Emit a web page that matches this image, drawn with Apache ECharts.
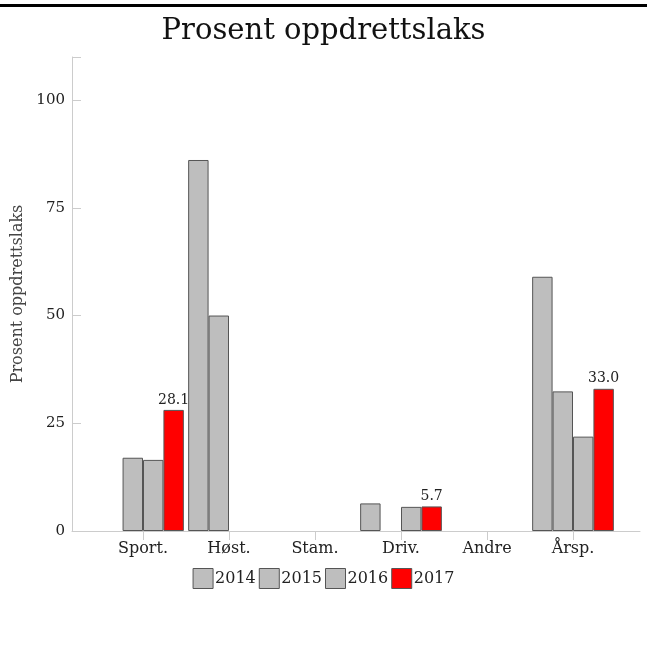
<!DOCTYPE html>
<html><head><meta charset="utf-8">
<script src="https://cdn.jsdelivr.net/npm/echarts@6/dist/echarts.min.js"></script>
<style>html,body{margin:0;padding:0;background:#fff}#c{width:647px;height:658px}</style>
</head><body><div id="c"></div>
<script>
const categories = ['Sport.', 'Høst.', 'Stam.', 'Driv.', 'Andre', 'Årsp.'];
const years = ['2014', '2015', '2016', '2017'];
const s2014 = [null, 86.1, null, 6.4, null, 59.0];
const s2015 = [17.0, 50.0, null, null, null, 32.4];
const s2016 = [16.5, null, null, 5.6, null, 21.9];
const s2017 = [28.1, null, null, 5.7, null, 33.0];
const yTicks = [0, 25, 50, 75, 100];

const FONT = 'DejaVu Serif';
const gray = '#bebebe', red = '#ff0000', edge = '#555555';
const values = [s2014, s2015, s2016, s2017];
const colors = [gray, gray, gray, red];

const chart = echarts.init(document.getElementById('c'), null, {renderer: 'canvas'});
chart.setOption({
  animation: false,
  backgroundColor: '#fff',
  textStyle: {fontFamily: FONT},
  graphic: [{type: 'rect', shape: {x: 0, y: 4, width: 647, height: 3}, style: {fill: '#000'}}],
  title: {text: 'Prosent oppdrettslaks', left: 'center', top: 12,
    textStyle: {fontFamily: FONT, fontSize: 29, fontWeight: 'normal', color: '#111'}},
  legend: {bottom: 64, left: 'center', itemWidth: 20, itemHeight: 20, itemGap: 3, icon: 'rect',
    data: years.map((y, i) => ({name: y, icon: 'rect', itemStyle: {color: colors[i], borderColor: edge, borderWidth: 1}})),
    textStyle: {fontFamily: FONT, fontSize: 16, color: '#222', padding: [0, 0, 0, -3]}},
  grid: [
    {left: 100, right: 31, top: 57, bottom: 127},
    {left: 72, right: 7, top: 57, bottom: 127}
  ],
  xAxis: [
    {type: 'category', gridIndex: 0, data: categories,
      axisLine: {show: false},
      axisTick: {show: true, alignWithLabel: true, length: 9, lineStyle: {color: '#cccccc'}},
      axisLabel: {fontFamily: FONT, fontSize: 16, color: '#222', margin: 10}},
    {type: 'value', gridIndex: 1, min: 0, max: 1, show: true,
      axisLine: {show: true, lineStyle: {color: '#cccccc'}},
      axisTick: {show: false}, axisLabel: {show: false}, splitLine: {show: false}}
  ],
  yAxis: [
    {type: 'value', gridIndex: 0, min: 0, max: 110, interval: 25, offset: 28,
      name: 'Prosent oppdrettslaks', nameLocation: 'middle', nameGap: 44,
      nameTextStyle: {fontFamily: FONT, fontSize: 16, color: '#444'},
      axisLine: {show: true, lineStyle: {color: '#cccccc'}},
      axisTick: {show: true, inside: true, length: 9, lineStyle: {color: '#cccccc'}},
      axisLabel: {fontFamily: FONT, fontSize: 15, color: '#222', margin: 7,
        formatter: v => yTicks.includes(v) ? String(v) : ''},
      splitLine: {show: false}},
    {type: 'value', gridIndex: 1, show: false, min: 0, max: 1}
  ],
  series: years.map((y, i) => ({
    name: y, type: 'bar', xAxisIndex: 0, yAxisIndex: 0,
    data: values[i], barGap: 0, barCategoryGap: '5%',
    itemStyle: {color: colors[i], borderColor: edge, borderWidth: 1},
    label: i === 3 ? {show: true, position: 'top', distance: 3, fontFamily: FONT, fontSize: 14, color: '#222',
      formatter: p => p.value == null ? '' : Number(p.value).toFixed(1)} : {show: false}
  }))
});
</script></body></html>
